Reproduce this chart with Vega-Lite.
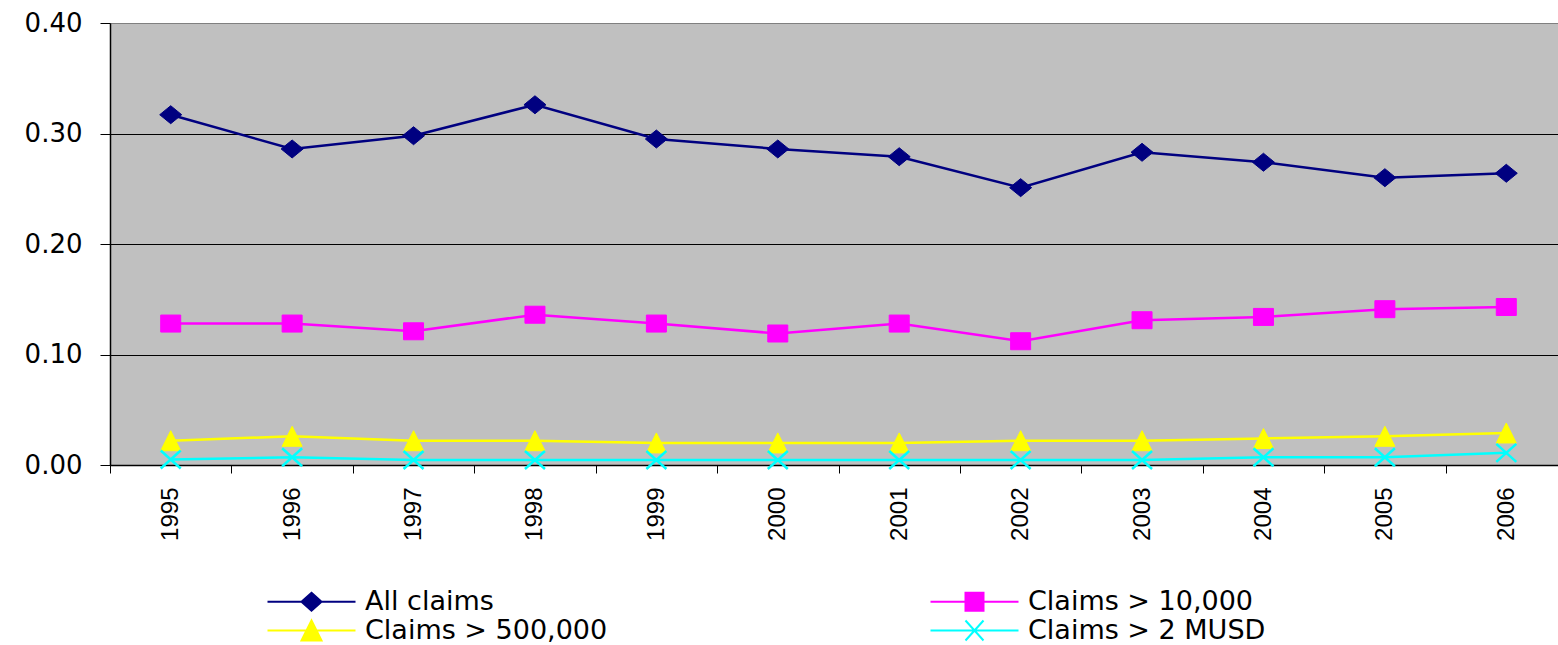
{
  "$schema": "https://vega.github.io/schema/vega-lite/v6.json",
  "autosize": {"type": "none"},
  "padding": {"left": 110, "top": 23, "right": 0, "bottom": 180},
  "width": 1448,
  "height": 442,
  "background": "white",
  "config": {
    "view": {"fill": "#C0C0C0", "stroke": "#808080", "strokeWidth": 1},
    "font": "Liberation Sans"
  },
  "data": {
    "values": [
      {"year": "1995", "series": "All claims", "value": 0.317},
      {"year": "1996", "series": "All claims", "value": 0.286},
      {"year": "1997", "series": "All claims", "value": 0.298},
      {"year": "1998", "series": "All claims", "value": 0.326},
      {"year": "1999", "series": "All claims", "value": 0.295},
      {"year": "2000", "series": "All claims", "value": 0.286},
      {"year": "2001", "series": "All claims", "value": 0.279},
      {"year": "2002", "series": "All claims", "value": 0.251},
      {"year": "2003", "series": "All claims", "value": 0.283},
      {"year": "2004", "series": "All claims", "value": 0.274},
      {"year": "2005", "series": "All claims", "value": 0.260},
      {"year": "2006", "series": "All claims", "value": 0.264},
      {"year": "1995", "series": "Claims > 10,000", "value": 0.128},
      {"year": "1996", "series": "Claims > 10,000", "value": 0.128},
      {"year": "1997", "series": "Claims > 10,000", "value": 0.121},
      {"year": "1998", "series": "Claims > 10,000", "value": 0.136},
      {"year": "1999", "series": "Claims > 10,000", "value": 0.128},
      {"year": "2000", "series": "Claims > 10,000", "value": 0.119},
      {"year": "2001", "series": "Claims > 10,000", "value": 0.128},
      {"year": "2002", "series": "Claims > 10,000", "value": 0.112},
      {"year": "2003", "series": "Claims > 10,000", "value": 0.131},
      {"year": "2004", "series": "Claims > 10,000", "value": 0.134},
      {"year": "2005", "series": "Claims > 10,000", "value": 0.141},
      {"year": "2006", "series": "Claims > 10,000", "value": 0.143},
      {"year": "1995", "series": "Claims > 500,000", "value": 0.022},
      {"year": "1996", "series": "Claims > 500,000", "value": 0.026},
      {"year": "1997", "series": "Claims > 500,000", "value": 0.022},
      {"year": "1998", "series": "Claims > 500,000", "value": 0.022},
      {"year": "1999", "series": "Claims > 500,000", "value": 0.020},
      {"year": "2000", "series": "Claims > 500,000", "value": 0.020},
      {"year": "2001", "series": "Claims > 500,000", "value": 0.020},
      {"year": "2002", "series": "Claims > 500,000", "value": 0.022},
      {"year": "2003", "series": "Claims > 500,000", "value": 0.022},
      {"year": "2004", "series": "Claims > 500,000", "value": 0.024},
      {"year": "2005", "series": "Claims > 500,000", "value": 0.026},
      {"year": "2006", "series": "Claims > 500,000", "value": 0.029},
      {"year": "1995", "series": "Claims > 2 MUSD", "value": 0.005},
      {"year": "1996", "series": "Claims > 2 MUSD", "value": 0.007},
      {"year": "1997", "series": "Claims > 2 MUSD", "value": 0.0045},
      {"year": "1998", "series": "Claims > 2 MUSD", "value": 0.0045},
      {"year": "1999", "series": "Claims > 2 MUSD", "value": 0.0045},
      {"year": "2000", "series": "Claims > 2 MUSD", "value": 0.0045},
      {"year": "2001", "series": "Claims > 2 MUSD", "value": 0.0045},
      {"year": "2002", "series": "Claims > 2 MUSD", "value": 0.0045},
      {"year": "2003", "series": "Claims > 2 MUSD", "value": 0.0045},
      {"year": "2004", "series": "Claims > 2 MUSD", "value": 0.007},
      {"year": "2005", "series": "Claims > 2 MUSD", "value": 0.007},
      {"year": "2006", "series": "Claims > 2 MUSD", "value": 0.011}
    ]
  },
  "encoding": {
    "x": {
      "field": "year",
      "type": "ordinal",
      "scale": {"type": "band", "range": [0, 1457], "paddingInner": 0, "paddingOuter": 0},
      "axis": {
        "title": null,
        "labelAngle": -90,
        "labelAlign": "right",
        "labelBaseline": "middle",
        "labelFont": "Liberation Sans",
        "labelFontSize": 24,
        "labelColor": "black",
        "labelPadding": 14,
        "tickSize": 8,
        "tickColor": "black",
        "tickWidth": 1,
        "tickBand": "extent",
        "domainColor": "black",
        "domainWidth": 1.5,
        "grid": false
      }
    },
    "y": {
      "field": "value",
      "type": "quantitative",
      "scale": {"domain": [0, 0.4], "nice": false},
      "axis": {
        "title": null,
        "values": [0, 0.1, 0.2, 0.3, 0.4],
        "format": ".2f",
        "labelFont": "DejaVu Sans",
        "labelFontSize": 26,
        "labelColor": "black",
        "labelPadding": 18,
        "tickSize": 10,
        "tickColor": "black",
        "domainColor": "black",
        "domainWidth": 1.5,
        "grid": true,
        "gridColor": {"condition": {"test": "datum.value >= 0.39", "value": "#808080"}, "value": "black"},
        "gridOpacity": 1,
        "gridWidth": 1
      }
    },
    "color": {
      "field": "series",
      "type": "nominal",
      "scale": {
        "domain": ["All claims", "Claims > 500,000", "Claims > 10,000", "Claims > 2 MUSD"],
        "range": ["#000080", "#FFFF00", "#FF00FF", "#00FFFF"]
      },
      "legend": {
        "title": null,
        "orient": "none",
        "legendX": 188,
        "legendY": 565,
        "columns": 2,
        "padding": 0,
        "rowPadding": 1,
        "columnPadding": 318,
        "labelFont": "DejaVu Sans",
        "labelFontSize": 27,
        "labelColor": "black",
        "labelLimit": 500,
        "labelOffset": 40,
        "symbolSize": 400,
        "symbolStrokeWidth": 2,
        "symbolOpacity": 1,
        "symbolType": {"expr": "datum.value === 'All claims' ? 'M-4.4,0H4.4M0,-0.9L1,0L0,0.9L-1,0Z' : datum.value === 'Claims > 10,000' ? 'M-4.4,0H4.4M-0.9,-0.9H0.9V0.9H-0.9Z' : datum.value === 'Claims > 500,000' ? 'M-4.4,0H4.4M0,-1L1,1H-1Z' : 'M-4.4,0H4.4M-0.9,-1L0.9,1M-0.9,1L0.9,-1'"},
        "symbolFillColor": {"expr": "scale('color', datum.value)"},
        "symbolStrokeColor": {"expr": "scale('color', datum.value)"}
      }
    }
  },
  "layer": [
    {"mark": {"type": "line", "strokeWidth": 2.5}},
    {
      "transform": [{"filter": "datum.series === 'All claims'"}],
      "mark": {"type": "point", "filled": true, "size": 400, "shape": "M0,-0.9L1.1,0L0,0.9L-1.1,0Z", "stroke": "#000080", "strokeWidth": 1, "opacity": 1}
    },
    {
      "transform": [{"filter": "datum.series === 'Claims > 10,000'"}],
      "mark": {"type": "point", "filled": true, "size": 400, "shape": "M-1,-0.85H1V0.85H-1Z", "stroke": "#FF00FF", "strokeWidth": 1, "opacity": 1}
    },
    {
      "transform": [{"filter": "datum.series === 'Claims > 500,000'"}],
      "mark": {"type": "point", "filled": true, "size": 400, "shape": "M0,-1L1,1H-1Z", "stroke": "#FFFF00", "strokeWidth": 1, "opacity": 1}
    },
    {
      "transform": [{"filter": "datum.series === 'Claims > 2 MUSD'"}],
      "mark": {"type": "point", "filled": true, "size": 400, "shape": "M-1,-0.9L1,0.9M-1,0.9L1,-0.9", "stroke": "#00FFFF", "strokeWidth": 2.5, "opacity": 1}
    }
  ]
}
